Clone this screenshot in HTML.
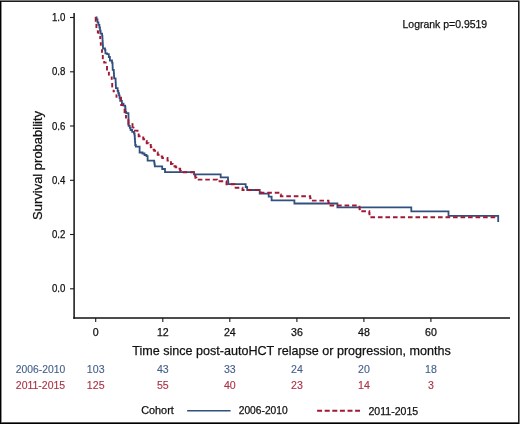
<!DOCTYPE html>
<html><head><meta charset="utf-8">
<style>
html,body{margin:0;padding:0;background:#fff;}
body{width:520px;height:424px;overflow:hidden;}
svg{display:block;will-change:transform;}
text{font-family:"Liberation Sans",sans-serif;fill:#111;stroke:#111;stroke-width:0.25px;}
.cb{fill:#45608d;stroke:#45608d;stroke-width:0.12px;}
.cr{fill:#ab3145;stroke:#ab3145;stroke-width:0.12px;}
.tk{font-size:10.6px;}
</style></head><body>
<svg width="520" height="424" viewBox="0 0 520 424">
<rect x="0" y="0" width="520" height="424" fill="#fff"/>
<!-- border -->
<rect x="0" y="0" width="520" height="1" fill="#787878"/>
<rect x="519" y="0" width="1" height="1" fill="#bbbbbb"/>
<rect x="0" y="1" width="519" height="1" fill="#1c1c1c"/>
<rect x="0" y="1" width="1" height="423" fill="#000"/>
<rect x="1" y="2" width="1" height="420" fill="#909090"/>
<rect x="518" y="1" width="1" height="423" fill="#1e1e1e"/>
<rect x="519" y="1" width="1" height="423" fill="#7a7a7a"/>
<rect x="1" y="422" width="517" height="1" fill="#5a5a5a"/>
<rect x="0" y="423" width="519" height="1" fill="#000"/>
<!-- axes -->
<line x1="74.1" y1="13" x2="74.1" y2="318.8" stroke="#111" stroke-width="1.5"/>
<line x1="73.3" y1="318" x2="510" y2="318" stroke="#111" stroke-width="1.5"/>
<line x1="70" y1="17.5" x2="74" y2="17.5" stroke="#1a1a1a" stroke-width="1.1"/>
<text x="65.4" y="21.1" text-anchor="end" class="tk" textLength="13.4" lengthAdjust="spacingAndGlyphs">1.0</text>
<line x1="70" y1="71.8" x2="74" y2="71.8" stroke="#1a1a1a" stroke-width="1.1"/>
<text x="65.4" y="75.4" text-anchor="end" class="tk" textLength="13.4" lengthAdjust="spacingAndGlyphs">0.8</text>
<line x1="70" y1="126.0" x2="74" y2="126.0" stroke="#1a1a1a" stroke-width="1.1"/>
<text x="65.4" y="129.6" text-anchor="end" class="tk" textLength="13.4" lengthAdjust="spacingAndGlyphs">0.6</text>
<line x1="70" y1="180.3" x2="74" y2="180.3" stroke="#1a1a1a" stroke-width="1.1"/>
<text x="65.4" y="183.9" text-anchor="end" class="tk" textLength="13.4" lengthAdjust="spacingAndGlyphs">0.4</text>
<line x1="70" y1="234.5" x2="74" y2="234.5" stroke="#1a1a1a" stroke-width="1.1"/>
<text x="65.4" y="238.1" text-anchor="end" class="tk" textLength="13.4" lengthAdjust="spacingAndGlyphs">0.2</text>
<line x1="70" y1="288.8" x2="74" y2="288.8" stroke="#1a1a1a" stroke-width="1.1"/>
<text x="65.4" y="292.4" text-anchor="end" class="tk" textLength="13.4" lengthAdjust="spacingAndGlyphs">0.0</text>

<line x1="95.7" y1="318" x2="95.7" y2="322" stroke="#1a1a1a" stroke-width="1.1"/>
<text x="95.7" y="335.8" text-anchor="middle" class="tk">0</text>
<line x1="162.8" y1="318" x2="162.8" y2="322" stroke="#1a1a1a" stroke-width="1.1"/>
<text x="162.8" y="335.8" text-anchor="middle" class="tk">12</text>
<line x1="229.8" y1="318" x2="229.8" y2="322" stroke="#1a1a1a" stroke-width="1.1"/>
<text x="229.8" y="335.8" text-anchor="middle" class="tk">24</text>
<line x1="296.9" y1="318" x2="296.9" y2="322" stroke="#1a1a1a" stroke-width="1.1"/>
<text x="296.9" y="335.8" text-anchor="middle" class="tk">36</text>
<line x1="363.9" y1="318" x2="363.9" y2="322" stroke="#1a1a1a" stroke-width="1.1"/>
<text x="363.9" y="335.8" text-anchor="middle" class="tk">48</text>
<line x1="430.9" y1="318" x2="430.9" y2="322" stroke="#1a1a1a" stroke-width="1.1"/>
<text x="430.9" y="335.8" text-anchor="middle" class="tk">60</text>

<text x="402.5" y="28" class="tk" style="font-size:10.8px" textLength="84.7" lengthAdjust="spacingAndGlyphs">Logrank p=0.9519</text>
<text transform="translate(42,219.9) rotate(-90)" style="font-size:12.6px" textLength="108.9" lengthAdjust="spacingAndGlyphs">Survival probability</text>
<text x="132.3" y="354.8" style="font-size:12.8px" textLength="318.5" lengthAdjust="spacingAndGlyphs">Time since post-autoHCT relapse or progression, months</text>
<text x="15.8" y="372.7" class="tk cb" textLength="49.4" lengthAdjust="spacingAndGlyphs">2006-2010</text>
<text x="15.8" y="388.9" class="tk cr" textLength="49.4" lengthAdjust="spacingAndGlyphs">2011-2015</text>
<text x="95.7" y="372.7" text-anchor="middle" class="tk cb">103</text>
<text x="95.7" y="388.9" text-anchor="middle" class="tk cr">125</text>
<text x="162.8" y="372.7" text-anchor="middle" class="tk cb">43</text>
<text x="162.8" y="388.9" text-anchor="middle" class="tk cr">55</text>
<text x="229.8" y="372.7" text-anchor="middle" class="tk cb">33</text>
<text x="229.8" y="388.9" text-anchor="middle" class="tk cr">40</text>
<text x="296.9" y="372.7" text-anchor="middle" class="tk cb">24</text>
<text x="296.9" y="388.9" text-anchor="middle" class="tk cr">23</text>
<text x="363.9" y="372.7" text-anchor="middle" class="tk cb">20</text>
<text x="363.9" y="388.9" text-anchor="middle" class="tk cr">14</text>
<text x="430.9" y="372.7" text-anchor="middle" class="tk cb">18</text>
<text x="430.9" y="388.9" text-anchor="middle" class="tk cr">3</text>

<text x="141.2" y="414.3" class="tk" textLength="32.6" lengthAdjust="spacingAndGlyphs">Cohort</text>
<line x1="187.1" y1="410.7" x2="230.6" y2="410.7" stroke="#32507f" stroke-width="1.6"/>
<text x="238.7" y="414.4" class="tk" textLength="49" lengthAdjust="spacingAndGlyphs">2006-2010</text>
<line x1="317.1" y1="410.7" x2="360" y2="410.7" stroke="#a01a35" stroke-width="1.9" stroke-dasharray="5 2.6"/>
<text x="368.5" y="414.5" class="tk" textLength="49.7" lengthAdjust="spacingAndGlyphs">2011-2015</text>
<!-- curves -->
<path d="M95.70,17.50 L96.60,17.50 L96.60,19.40 L97.50,19.40 L97.50,22.30 L98.45,22.30 L98.45,24.90 L99.40,24.90 L99.40,27.50 L100.00,27.50 L100.00,30.55 L100.60,30.55 L100.60,33.60 L101.80,33.60 L102.10,33.60 L102.10,35.95 L102.40,35.95 L102.40,38.30 L102.55,38.30 L102.55,40.85 L102.70,40.85 L102.70,43.40 L102.85,43.40 L102.85,45.95 L103.00,45.95 L103.00,48.50 L105.00,48.50 L105.00,49.90 L105.40,49.90 L105.40,53.40 L107.10,53.40 L107.10,54.10 L108.80,54.10 L108.80,57.00 L109.90,57.00 L109.90,60.50 L112.00,60.50 L112.00,62.60 L112.50,62.60 L112.50,63.20 L112.57,63.20 L112.57,65.40 L112.63,65.40 L112.63,67.60 L112.70,67.60 L112.70,69.80 L113.70,69.80 L113.70,70.50 L113.83,70.50 L113.83,73.10 L113.97,73.10 L113.97,75.70 L114.10,75.70 L114.10,78.30 L115.50,78.30 L115.50,79.00 L115.63,79.00 L115.63,82.07 L115.77,82.07 L115.77,85.13 L115.90,85.13 L115.90,88.20 L117.60,88.20 L117.60,91.00 L118.30,91.00 L118.30,93.15 L119.00,93.15 L119.00,95.30 L119.60,95.30 L119.60,98.10 L120.20,98.10 L120.20,100.90 L121.90,100.90 L121.90,103.70 L123.50,103.70 L123.50,105.70 L125.20,105.70 L125.20,107.10 L125.40,107.10 L125.40,109.55 L125.60,109.55 L125.60,112.00 L126.20,112.00 L126.20,113.10 L128.40,113.10 L128.44,113.10 L128.44,115.64 L128.48,115.64 L128.48,118.18 L128.52,118.18 L128.52,120.72 L128.56,120.72 L128.56,123.26 L128.60,123.26 L128.60,125.80 L129.80,125.80 L129.80,127.80 L130.60,127.80 L130.60,130.00 L132.20,130.00 L132.20,131.80 L134.00,131.80 L134.00,133.50 L134.60,133.50 L134.60,135.80 L134.80,135.80 L134.80,138.87 L135.00,138.87 L135.00,141.93 L135.20,141.93 L135.20,145.00 L135.80,145.00 L135.80,146.70 L139.60,146.70 L139.60,152.50 L142.50,152.50 L142.50,153.50 L144.50,153.50 L144.50,155.00 L146.50,155.00 L146.50,156.20 L147.60,156.20 L147.60,160.60 L153.90,160.60 L154.20,160.60 L154.20,162.30 L154.50,162.30 L154.50,164.30 L154.80,164.30 L154.80,166.30 L162.20,166.30 L162.20,169.00 L165.00,169.00 L165.00,172.20 L194.00,172.20 L194.00,174.40 L220.70,174.40 L220.70,177.40 L227.80,177.40 L227.97,177.40 L227.97,179.67 L228.13,179.67 L228.13,181.93 L228.30,181.93 L228.30,184.20 L245.50,184.20 L245.70,184.20 L245.70,187.00 L247.00,187.00 L247.00,187.50 L247.20,187.50 L247.20,190.00 L259.50,190.00 L259.70,190.00 L259.70,193.70 L268.50,193.70 L268.70,193.70 L268.70,196.70 L271.50,196.70 L271.60,196.70 L271.60,200.40 L294.40,200.40 L294.40,203.50 L337.40,203.50 L337.40,207.40 L411.30,207.40 L411.30,211.30 L448.50,211.30 L448.50,215.90 L498.20,215.90 L498.20,221.90" fill="none" stroke="#32507f" stroke-width="1.8" stroke-linejoin="miter"/>
<path d="M95.70,16.90 L95.70,21.80" fill="none" stroke="#a01a35" stroke-width="1.9"/><path d="M96.40,23.90 L96.40,28.10" fill="none" stroke="#a01a35" stroke-width="1.9"/><path d="M97.80,30.30 L97.80,32.20 L98.50,32.20 L98.50,33.80" fill="none" stroke="#a01a35" stroke-width="1.9"/><path d="M100.20,35.90 L100.20,39.10" fill="none" stroke="#a01a35" stroke-width="1.9"/><path d="M100.80,42.20 L100.80,45.70" fill="none" stroke="#a01a35" stroke-width="1.9"/><path d="M102.00,49.20 L102.00,52.80" fill="none" stroke="#a01a35" stroke-width="1.9"/><path d="M102.80,55.00 L102.80,59.20" fill="none" stroke="#a01a35" stroke-width="1.9"/><path d="M104.20,61.00 L104.20,62.60 L106.60,62.60" fill="none" stroke="#a01a35" stroke-width="1.9"/><path d="M107.00,66.00 L107.00,70.40" fill="none" stroke="#a01a35" stroke-width="1.9"/><path d="M108.90,71.80 L108.90,75.60" fill="none" stroke="#a01a35" stroke-width="1.9"/><path d="M111.70,76.50 L111.70,79.80" fill="none" stroke="#a01a35" stroke-width="1.9"/><path d="M112.20,83.00 L112.20,87.40" fill="none" stroke="#a01a35" stroke-width="1.9"/><path d="M113.60,89.70 L113.60,91.20 L114.80,91.20" fill="none" stroke="#a01a35" stroke-width="1.9"/><path d="M116.50,94.40 L116.50,97.70" fill="none" stroke="#a01a35" stroke-width="1.9"/><path d="M121.00,96.80 L121.00,101.00" fill="none" stroke="#a01a35" stroke-width="1.9"/><path d="M121.20,104.00 L121.20,105.00 L123.70,105.00" fill="none" stroke="#a01a35" stroke-width="1.9"/><path d="M124.60,108.60 L124.60,113.20" fill="none" stroke="#a01a35" stroke-width="1.9"/><path d="M126.00,114.90 L126.00,118.50" fill="none" stroke="#a01a35" stroke-width="1.9"/><path d="M128.40,119.20 L128.40,125.10" fill="none" stroke="#a01a35" stroke-width="1.9"/><path d="M132.50,123.20 L132.50,127.80" fill="none" stroke="#a01a35" stroke-width="1.9"/>
<path d="M132.60,127.80 L133.50,127.80 L133.50,130.60 L136.30,130.60 L137.50,130.60 L137.50,133.50 L138.70,133.50 L138.70,136.30 L141.00,136.30 L141.00,137.50 L143.30,137.50 L143.30,139.20 L145.60,139.20 L145.60,141.00 L146.70,141.00 L146.70,143.30 L148.50,143.30 L148.50,145.00 L150.80,145.00 L150.80,147.30 L151.30,147.30 L151.30,149.60 L154.20,149.60 L154.20,150.80 L156.50,150.80 L156.50,152.50 L157.70,152.50 L157.70,154.80 L160.00,154.80 L160.00,156.50 L162.30,156.50 L162.30,158.00 L166.30,158.00 L167.50,158.00 L167.50,160.60 L169.20,160.60 L169.20,162.30 L171.00,162.30 L171.00,164.00 L172.70,164.00 L172.70,166.30 L175.60,166.30 L175.60,167.20 L178.50,167.20 L178.50,168.70 L180.20,168.70 L180.20,171.00 L180.80,171.00 L180.80,172.20 L194.60,172.20 L194.87,172.20 L194.87,174.07 L195.13,174.07 L195.13,175.93 L195.40,175.93 L195.40,177.80 L196.40,177.80 L196.40,179.60 L217.20,179.60 L217.20,181.30 L226.20,181.30 L226.50,181.30 L226.50,184.20 L234.60,184.20 L234.60,187.70 L240.80,187.70 L242.50,187.70 L242.50,190.00 L260.00,190.00 L261.00,190.00 L261.00,192.70 L279.80,192.70 L280.30,192.70 L280.30,194.45 L280.80,194.45 L280.80,196.20 L309.80,196.20 L310.20,196.20 L310.20,198.40 L310.60,198.40 L310.60,200.60 L328.20,200.60 L328.50,200.60 L328.50,203.05 L328.80,203.05 L328.80,205.50 L359.30,205.50 L359.47,205.50 L359.47,207.43 L359.63,207.43 L359.63,209.37 L359.80,209.37 L359.80,211.30 L369.00,211.30 L369.27,211.30 L369.27,213.27 L369.53,213.27 L369.53,215.23 L369.80,215.23 L369.80,217.20 L496.40,217.20" fill="none" stroke="#a01a35" stroke-width="1.9" stroke-dasharray="4.61 2.9" stroke-dashoffset="145.90"/>
</svg>
</body></html>
